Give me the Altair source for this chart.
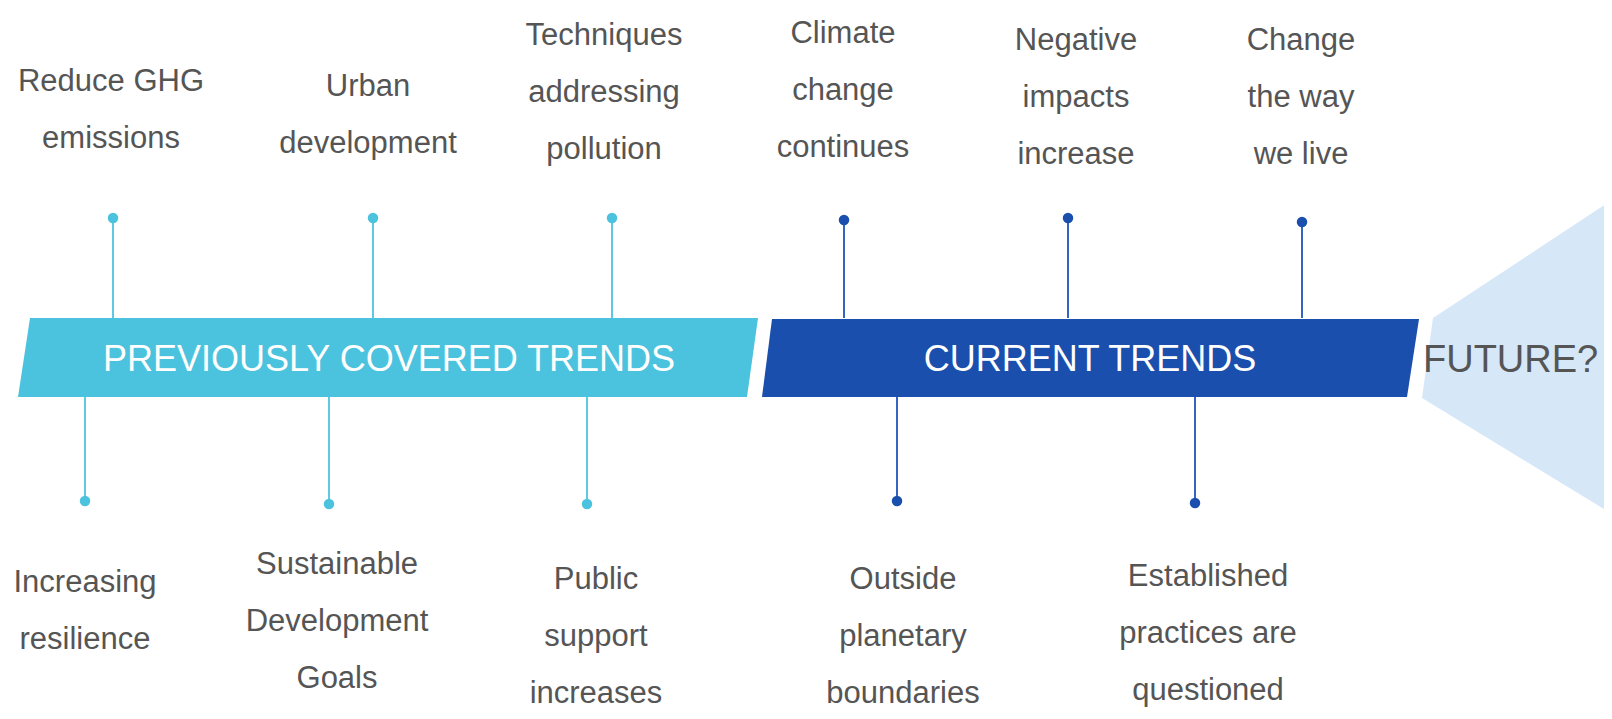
import altair as alt
import pandas as pd

# ---- data -------------------------------------------------------------
band_labels = ["PREVIOUSLY COVERED TRENDS", "CURRENT TRENDS"]
future_label = "FUTURE?"

top_labels = [
    ["Reduce GHG", "emissions"],
    ["Urban", "development"],
    ["Techniques", "addressing", "pollution"],
    ["Climate", "change", "continues"],
    ["Negative", "impacts", "increase"],
    ["Change", "the way", "we live"],
]
top_group = ["prev", "prev", "prev", "curr", "curr", "curr"]
top_pin_x = [113, 373, 612, 844, 1068, 1302]
top_pin_y = [218, 218, 218, 220, 218, 222]
top_text_x = [111, 368, 604, 843, 1076, 1301]
top_text_y = [82, 87, 36, 34, 41, 41]   # first line centre

bottom_labels = [
    ["Increasing", "resilience"],
    ["Sustainable", "Development", "Goals"],
    ["Public", "support", "increases"],
    ["Outside", "planetary", "boundaries"],
    ["Established", "practices are", "questioned"],
]
bottom_group = ["prev", "prev", "prev", "curr", "curr"]
bottom_pin_x = [85, 329, 587, 897, 1195]
bottom_pin_y = [501, 504, 504, 501, 503]
bottom_text_x = [85, 337, 596, 903, 1208]
bottom_text_y = [583, 565, 580, 580, 577]

band_top, band_bottom = 318, 397
line_gap = 57

colors = {"prev": "#4cc3de", "curr": "#1a4fad", "future": "#d6e7f7"}
text_color = "#555555"
FONT = "Liberation Sans"

# ---- tables -------------------------------------------------------------
bands = pd.DataFrame({
    "shape": ["prev", "prev", "curr", "curr", "future", "future", "future", "future"],
    "y": [band_top, band_bottom, band_top + 1, band_bottom,
          200, band_top, band_bottom + 1, 514],
    "x": [30, 18, 772, 762, 1612, 1433, 1422, 1612],
    "x2": [758, 747, 1419, 1407, 1630, 1630, 1630, 1630],
})

pins = pd.DataFrame({
    "x": top_pin_x + bottom_pin_x,
    "y": top_pin_y + bottom_pin_y,
    "y2": [band_top] * len(top_pin_x) + [band_bottom] * len(bottom_pin_x),
    "group": top_group + bottom_group,
})

rows = []
for labs, xs_, ys_ in [(top_labels, top_text_x, top_text_y),
                       (bottom_labels, bottom_text_x, bottom_text_y)]:
    for lines, x, y in zip(labs, xs_, ys_):
        for i, t in enumerate(lines):
            rows.append({"x": x, "y": y + i * line_gap, "t": t})
labels = pd.DataFrame(rows)

band_text = pd.DataFrame({
    "x": [389, 1090],
    "y": [360, 360],
    "t": band_labels,
})
future_text = pd.DataFrame({"x": [1423], "y": [361], "t": [future_label]})

# ---- scales ------------------------------------------------------------
W, H = 1596, 703
xs = alt.Scale(domain=[8, 8 + W])
ys = alt.Scale(domain=[8, 8 + H], reverse=True)


def X(f="x"):
    return alt.X(f, type="quantitative", scale=xs, axis=None, stack=None)


def Y(f="y"):
    return alt.Y(f, type="quantitative", scale=ys, axis=None, stack=None)


shape_color = alt.Color("shape:N", scale=alt.Scale(
    domain=list(colors.keys()), range=list(colors.values())), legend=None)
group_color = alt.Color("group:N", scale=alt.Scale(
    domain=["prev", "curr"], range=[colors["prev"], colors["curr"]]), legend=None)

areas = alt.Chart(bands).mark_area(orient="horizontal", opacity=1).encode(
    y=Y(), x=X(), x2=alt.X2("x2"), color=shape_color,
)

rules = alt.Chart(pins).mark_rule(strokeWidth=2).encode(
    x=X(), y=Y(), y2=alt.Y2("y2"), color=alt.Color("group:N", scale=alt.Scale(
        domain=["prev", "curr"], range=["#5fc8e2", "#3565c2"]), legend=None)
)
dots = alt.Chart(pins).mark_circle(size=110, opacity=1).encode(
    x=X(), y=Y(), color=group_color
)

texts = alt.Chart(labels).mark_text(
    font=FONT, fontSize=31, color=text_color, baseline="middle", align="center"
).encode(x=X(), y=Y(), text="t:N")

btexts = alt.Chart(band_text).mark_text(
    font=FONT, fontSize=36, color="white", baseline="middle", align="center"
).encode(x=X(), y=Y(), text="t:N")

ftext = alt.Chart(future_text).mark_text(
    font=FONT, fontSize=38, color=text_color, baseline="middle", align="left"
).encode(x=X(), y=Y(), text="t:N")

chart = alt.layer(areas, rules, dots, texts, btexts, ftext).resolve_scale(
    color="independent"
).properties(
    width=W, height=H, padding=0, autosize="none", background="white"
).configure_view(stroke=None)

chart.save("out.html", embed_options={"renderer": "svg", "actions": False})
